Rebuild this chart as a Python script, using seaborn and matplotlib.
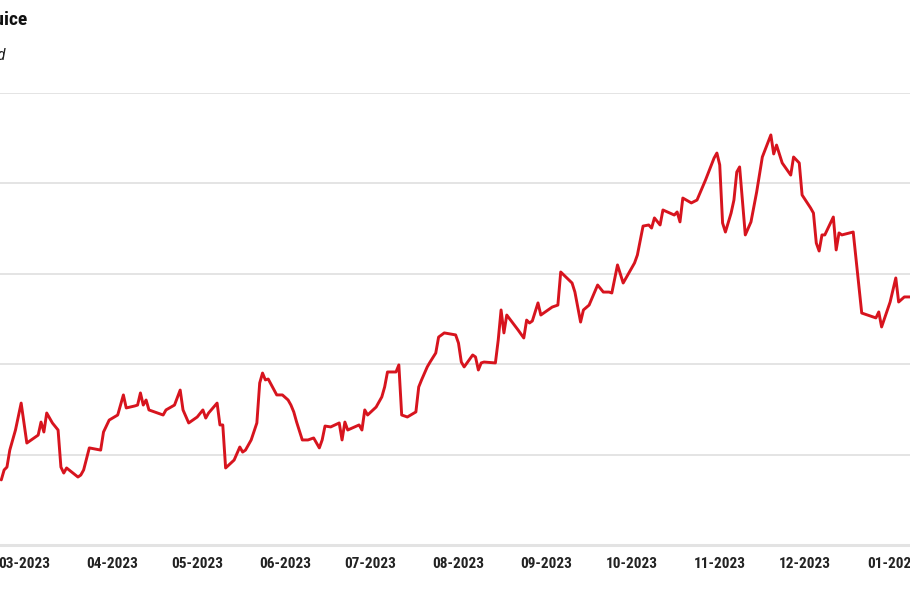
import pandas as pd
import matplotlib.pyplot as plt
import matplotlib.dates as mdates
import seaborn as sns

# Price readings (y axis: 200-450)
dates = [
    "2023-02-21", "2023-02-22", "2023-02-23", "2023-02-24", "2023-02-26", "2023-02-28",
    "2023-03-02", "2023-03-06", "2023-03-07", "2023-03-08", "2023-03-09", "2023-03-11",
    "2023-03-13", "2023-03-14", "2023-03-15", "2023-03-16", "2023-03-20", "2023-03-21",
    "2023-03-22", "2023-03-24", "2023-03-28", "2023-03-29", "2023-03-31",
    "2023-04-03", "2023-04-05", "2023-04-06", "2023-04-09", "2023-04-10", "2023-04-11",
    "2023-04-12", "2023-04-13", "2023-04-14", "2023-04-17", "2023-04-19", "2023-04-20",
    "2023-04-23", "2023-04-25", "2023-04-26", "2023-04-28",
    "2023-05-01", "2023-05-03", "2023-05-04", "2023-05-05", "2023-05-08", "2023-05-09",
    "2023-05-10", "2023-05-11", "2023-05-14", "2023-05-16", "2023-05-17", "2023-05-18",
    "2023-05-20", "2023-05-22", "2023-05-23", "2023-05-24", "2023-05-25", "2023-05-26",
    "2023-05-29", "2023-05-31",
    "2023-06-02", "2023-06-03", "2023-06-04", "2023-06-05", "2023-06-07", "2023-06-09",
    "2023-06-11", "2023-06-13", "2023-06-14", "2023-06-15", "2023-06-17", "2023-06-20",
    "2023-06-21", "2023-06-22", "2023-06-23", "2023-06-27", "2023-06-28", "2023-06-29",
    "2023-06-30",
    "2023-07-03", "2023-07-05", "2023-07-06", "2023-07-07", "2023-07-10", "2023-07-11",
    "2023-07-12", "2023-07-14", "2023-07-17", "2023-07-18", "2023-07-19", "2023-07-21",
    "2023-07-22", "2023-07-24", "2023-07-25", "2023-07-27", "2023-07-31",
    "2023-08-01", "2023-08-02", "2023-08-03", "2023-08-06", "2023-08-07", "2023-08-08",
    "2023-08-09", "2023-08-10", "2023-08-14", "2023-08-15", "2023-08-16", "2023-08-17",
    "2023-08-18", "2023-08-22", "2023-08-24", "2023-08-25", "2023-08-26", "2023-08-27",
    "2023-08-29", "2023-08-30",
    "2023-09-03", "2023-09-05", "2023-09-06", "2023-09-10", "2023-09-11", "2023-09-13",
    "2023-09-14", "2023-09-16", "2023-09-19", "2023-09-21", "2023-09-23", "2023-09-24",
    "2023-09-26", "2023-09-28",
    "2023-10-02", "2023-10-03", "2023-10-05", "2023-10-07", "2023-10-08", "2023-10-09",
    "2023-10-11", "2023-10-12", "2023-10-16", "2023-10-17", "2023-10-18", "2023-10-19",
    "2023-10-22", "2023-10-24", "2023-10-27", "2023-10-30", "2023-10-31",
    "2023-11-01", "2023-11-02", "2023-11-03", "2023-11-05", "2023-11-06", "2023-11-07",
    "2023-11-08", "2023-11-10", "2023-11-12", "2023-11-14", "2023-11-16", "2023-11-19",
    "2023-11-20", "2023-11-21", "2023-11-23", "2023-11-26", "2023-11-27", "2023-11-29",
    "2023-11-30",
    "2023-12-03", "2023-12-04", "2023-12-05", "2023-12-06", "2023-12-07", "2023-12-08",
    "2023-12-11", "2023-12-12", "2023-12-13", "2023-12-14", "2023-12-18", "2023-12-21",
    "2023-12-26", "2023-12-27", "2023-12-28", "2023-12-31",
    "2024-01-02", "2024-01-03", "2024-01-05", "2024-01-07",
]
prices = [
    236.0, 241.5, 243.1, 252.5, 263.6, 278.5,
    256.4, 260.8, 268.0, 262.5, 273.0, 267.5,
    263.6, 243.1, 239.8, 242.6, 237.6, 238.7,
    241.5, 253.7, 252.5, 262.5, 269.1,
    271.9, 283.0, 275.8, 276.9, 277.4, 284.1,
    277.4, 280.2, 274.7, 273.0, 271.9, 274.7,
    277.4, 285.7, 274.7, 267.5,
    270.8, 274.7, 270.2, 273.0, 278.5, 266.4,
    266.4, 242.6, 247.0, 254.2, 251.4, 252.5,
    258.1, 267.5, 289.6, 295.1, 291.3, 291.8,
    283.0, 283.0,
    280.2, 277.4, 273.6, 268.0, 258.1, 258.1,
    259.2, 253.7, 258.1, 265.8, 265.3, 267.5,
    258.1, 268.0, 263.6, 266.4, 263.6, 274.7,
    271.9,
    276.3, 281.9, 287.4, 295.7, 295.7, 299.6,
    271.9, 270.8, 273.6, 287.4, 291.3, 298.5,
    301.2, 306.2, 315.0, 317.3, 316.2,
    311.7, 301.2, 298.5, 305.1, 304.0, 296.8,
    300.7, 301.2, 300.7, 313.4, 330.0, 317.3,
    327.2, 318.9, 314.5, 324.4, 322.8, 323.9,
    333.9, 327.2,
    331.6, 332.7, 351.0, 344.9, 339.9, 323.3,
    330.0, 332.7, 343.8, 339.9, 339.9, 339.4,
    354.9, 344.9,
    356.0, 360.4, 376.4, 377.0, 375.3, 380.9,
    377.0, 385.3, 382.5, 384.2, 378.7, 391.9,
    389.2, 390.8, 401.9, 414.0, 416.8,
    410.2, 378.1, 373.1, 383.6, 390.8, 406.3,
    409.1, 371.5, 378.7, 395.2, 414.6, 426.8,
    416.3, 421.2, 411.3, 404.6, 414.6, 411.3,
    393.6,
    386.4, 383.6, 367.0, 362.6, 371.5, 371.5,
    381.4, 363.2, 372.6, 371.5, 373.1, 328.3,
    325.6, 328.9, 320.6, 334.4,
    347.7, 334.4, 337.2, 337.2,
]

y_ticks = [200, 250, 300, 350, 400, 450]
month_ticks = pd.date_range("2023-03-01", "2024-01-01", freq="MS")

df = pd.DataFrame({"Date": pd.to_datetime(dates), "Price": prices})

sns.set_style("white")
plt.rcParams["font.family"] = ["Roboto Condensed", "Liberation Sans Narrow", "DejaVu Sans"]
plt.rcParams["font.stretch"] = "condensed"

fig = plt.figure(figsize=(9.1, 5.96), dpi=100)
ax = fig.add_axes([0, 51 / 596, 1, 452 / 596])

sns.lineplot(data=df, x="Date", y="Price", estimator=None, color="#d7141e",
             linewidth=2.1, ax=ax)

start = pd.Timestamp("2023-03-01")
ax.set_xlim(start - pd.Timedelta(days=8.45), start + pd.Timedelta(days=312))
ax.set_ylim(200, 450)
ax.set_yticks(y_ticks)
ax.yaxis.grid(True, color="#dcdcdc", linewidth=1.1)
ax.set_yticklabels([])
ax.set_xticks(month_ticks)
ax.xaxis.set_major_formatter(mdates.DateFormatter("%m-%Y"))
ax.tick_params(axis="x", length=0, pad=9, labelsize=11, labelcolor="#222222")
ax.tick_params(axis="y", length=0)
for lab in ax.get_xticklabels():
    lab.set_fontweight("bold")
ax.set_xlabel("")
ax.set_ylabel("")
for side in ["top", "left", "right"]:
    ax.spines[side].set_visible(False)
ax.spines["bottom"].set_color("#e3e3e3")
ax.spines["bottom"].set_linewidth(2.2)

# Title and subtitle are partly cut off at the left edge, as in the reference
fig.text(27 / 910, 1 - 25 / 596, "Orange Juice", ha="right", va="baseline",
         fontsize=14, fontweight="bold", color="#111111")
fig.text(6 / 910, 1 - 60 / 596, "US cents per pound", ha="right", va="baseline",
         fontsize=12, fontstyle="italic", color="#222222")

fig.savefig("out.png", dpi=100)
